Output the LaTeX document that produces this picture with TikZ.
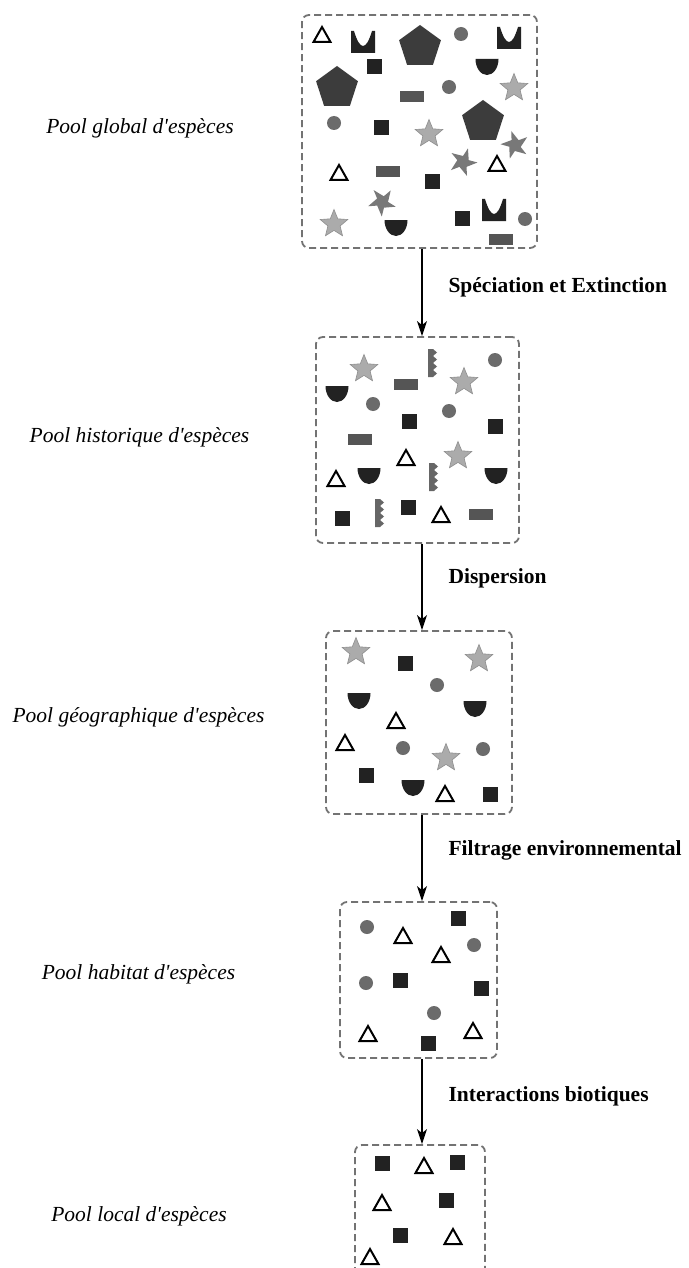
\documentclass[tikz,border=0pt]{standalone}
\usepackage{fontspec}
\setmainfont{Liberation Serif}
\usetikzlibrary{arrows.meta}
\definecolor{sqc}{HTML}{222222}
\definecolor{circc}{HTML}{6B6B6B}
\definecolor{rectc}{HTML}{555555}
\definecolor{starc}{HTML}{ABABAB}
\definecolor{starl}{HTML}{8E8E8E}
\definecolor{pentc}{HTML}{3C3C3C}
\definecolor{pinc}{HTML}{787878}
\definecolor{sawc}{HTML}{666666}
\definecolor{boxc}{HTML}{737373}
\tikzset{
  poolbox/.style={draw=boxc, line width=1.8pt, dash pattern=on 7pt off 4pt, rounded corners=7pt, inner sep=0pt},
  arr/.style={line width=1.4pt, -{Stealth[length=15pt,width=10pt,inset=4pt]}},
  poollabel/.style={font=\itshape\fontsize{21.5}{24}\selectfont, anchor=center},
  steplabel/.style={font=\bfseries\fontsize{21.5}{24}\selectfont, anchor=west},
  pics/sqr/.style={code={\fill[sqc] (-7.5,-7.5) rectangle (7.5,7.5);}},
  pics/circ/.style={code={\fill[circc] (0,0) circle (7pt);}},
  pics/tri/.style={code={\filldraw[fill=white, draw=black, line width=2pt, line join=miter] (0,-8) -- (8.5,7) -- (-8.5,7) -- cycle;}},
  pics/rect/.style={code={\fill[rectc] (-12,-5.5) rectangle (12,5.5);}},
  pics/star/.style={code={\filldraw[fill=starc, draw=starl, line width=0.6pt] (270:14.5) \foreach \k in {0,...,4}{ -- (306+\k*72:6.4) -- (342+\k*72:14.5)} -- cycle;}},
  pics/pent/.style={code={\fill[pentc] (270:22) -- (342:22) -- (54:22) -- (126:22) -- (198:22) -- cycle;}},
  pics/bowl/.style={code={\fill[sqc] (-11.5,-7) -- (11.5,-7) arc[start angle=0, end angle=-180, x radius=11.5pt, y radius=16pt] -- cycle;}},
  pics/crown/.style={code={\fill[sqc] (-12,-11) -- (-9,-11) .. controls (-3,9) and (3,9) .. (9,-11) -- (12,-11) -- (12,11) -- (-12,11) -- cycle;}},
  pics/pinw/.style={code={\fill[pinc] (270:14.5) \foreach \k in {0,...,4}{ -- (322+\k*72:6) -- (342+\k*72:14.5)} -- cycle;}},
  pics/saw/.style={code={\fill[sawc] (-4,-14) -- (1,-14) -- (5,-10.5) -- (1,-7) -- (5,-3.5) -- (1,0) -- (5,3.5) -- (1,7) -- (5,10.5) -- (1,14) -- (-4,14) -- cycle;}},
}
\begin{document}
\begin{tikzpicture}[x=1pt, y=-1pt]
\useasboundingbox (0,0) rectangle (688,1268);
\fill[white] (0,0) rectangle (688,1268);

% boxes
\node[poolbox, minimum width=235pt, minimum height=233pt] (b1) at (419.5,131.5) {};
\node[poolbox, minimum width=203pt, minimum height=206pt] (b2) at (417.5,440) {};
\node[poolbox, minimum width=186pt, minimum height=183pt] (b3) at (419,722.5) {};
\node[poolbox, minimum width=157pt, minimum height=156pt] (b4) at (418.5,980) {};
\node[poolbox, minimum width=130pt, minimum height=140pt] (b5) at (420,1215) {};

% arrows
\coordinate (ax) at (422,0);
\draw[arr] (b1.south -| ax) -- (b2.north -| ax);
\draw[arr] (b2.south -| ax) -- (b3.north -| ax);
\draw[arr] (b3.south -| ax) -- (b4.north -| ax);
\draw[arr] (b4.south -| ax) -- (b5.north -| ax);

% step labels
\node[steplabel] (s1) at (445,287) {Spéciation et Extinction};
\node[steplabel] (s2) at (445,578) {Dispersion};
\node[steplabel] (s3) at (445,850) {Filtrage environnemental};
\node[steplabel] (s4) at (445,1096) {Interactions biotiques};

% pool labels
\node[poollabel] (p1) at (140,128) {Pool global d\textquotesingle espèces};
\node[poollabel] (p2) at (139.5,437) {Pool historique d\textquotesingle espèces};
\node[poollabel] (p3) at (138.5,717) {Pool géographique d\textquotesingle espèces};
\node[poollabel] (p4) at (138.5,974) {Pool habitat d\textquotesingle espèces};
\node[poollabel] (p5) at (139,1216) {Pool local d\textquotesingle espèces};

% box 1 content
\pic at (322,35) {tri};
\pic at (363,42) {crown};
\pic at (420,47) {pent};
\pic at (461,34) {circ};
\pic at (509,38) {crown};
\pic at (374,67) {sqr};
\pic at (337,88) {pent};
\pic at (487,66) {bowl};
\pic at (449,87) {circ};
\pic at (514,88) {star};
\pic at (412,97) {rect};
\pic at (334,123) {circ};
\pic at (381,128) {sqr};
\pic at (429,134) {star};
\pic at (483,122) {pent};
\pic[rotate=15] at (515,145) {pinw};
\pic[rotate=-20] at (463,162) {pinw};
\pic at (497,164) {tri};
\pic at (339,173) {tri};
\pic at (388,172) {rect};
\pic at (432,182) {sqr};
\pic[rotate=35] at (382,202) {pinw};
\pic at (334,224) {star};
\pic at (396,227) {bowl};
\pic at (462,218) {sqr};
\pic at (494,210) {crown};
\pic at (525,219) {circ};
\pic at (501,239) {rect};

% box 2 content
\pic at (364,369) {star};
\pic at (432,363) {saw};
\pic at (495,360) {circ};
\pic at (406,384) {rect};
\pic at (464,382) {star};
\pic at (337,393) {bowl};
\pic at (373,404) {circ};
\pic at (449,411) {circ};
\pic at (409,421) {sqr};
\pic at (495,426) {sqr};
\pic at (360,439) {rect};
\pic at (458,456) {star};
\pic at (406,458) {tri};
\pic at (336,479) {tri};
\pic at (369,475) {bowl};
\pic at (433,477) {saw};
\pic at (496,475) {bowl};
\pic at (342,518) {sqr};
\pic at (379,513) {saw};
\pic at (408,507) {sqr};
\pic at (441,515) {tri};
\pic at (481,514) {rect};

% box 3 content
\pic at (356,652) {star};
\pic at (405,663) {sqr};
\pic at (479,659) {star};
\pic at (437,685) {circ};
\pic at (359,700) {bowl};
\pic at (475,708) {bowl};
\pic at (396,721) {tri};
\pic at (345,743) {tri};
\pic at (403,748) {circ};
\pic at (446,758) {star};
\pic at (483,749) {circ};
\pic at (366,775) {sqr};
\pic at (413,787) {bowl};
\pic at (445,794) {tri};
\pic at (490,794) {sqr};

% box 4 content
\pic at (367,927) {circ};
\pic at (458,918) {sqr};
\pic at (403,936) {tri};
\pic at (474,945) {circ};
\pic at (441,955) {tri};
\pic at (366,983) {circ};
\pic at (400,980) {sqr};
\pic at (481,988) {sqr};
\pic at (434,1013) {circ};
\pic at (368,1034) {tri};
\pic at (473,1031) {tri};
\pic at (428,1043) {sqr};

% box 5 content
\pic at (382,1163) {sqr};
\pic at (424,1166) {tri};
\pic at (457,1162) {sqr};
\pic at (382,1203) {tri};
\pic at (446,1200) {sqr};
\pic at (400,1235) {sqr};
\pic at (453,1237) {tri};
\pic at (370,1257) {tri};
\end{tikzpicture}
\end{document}
